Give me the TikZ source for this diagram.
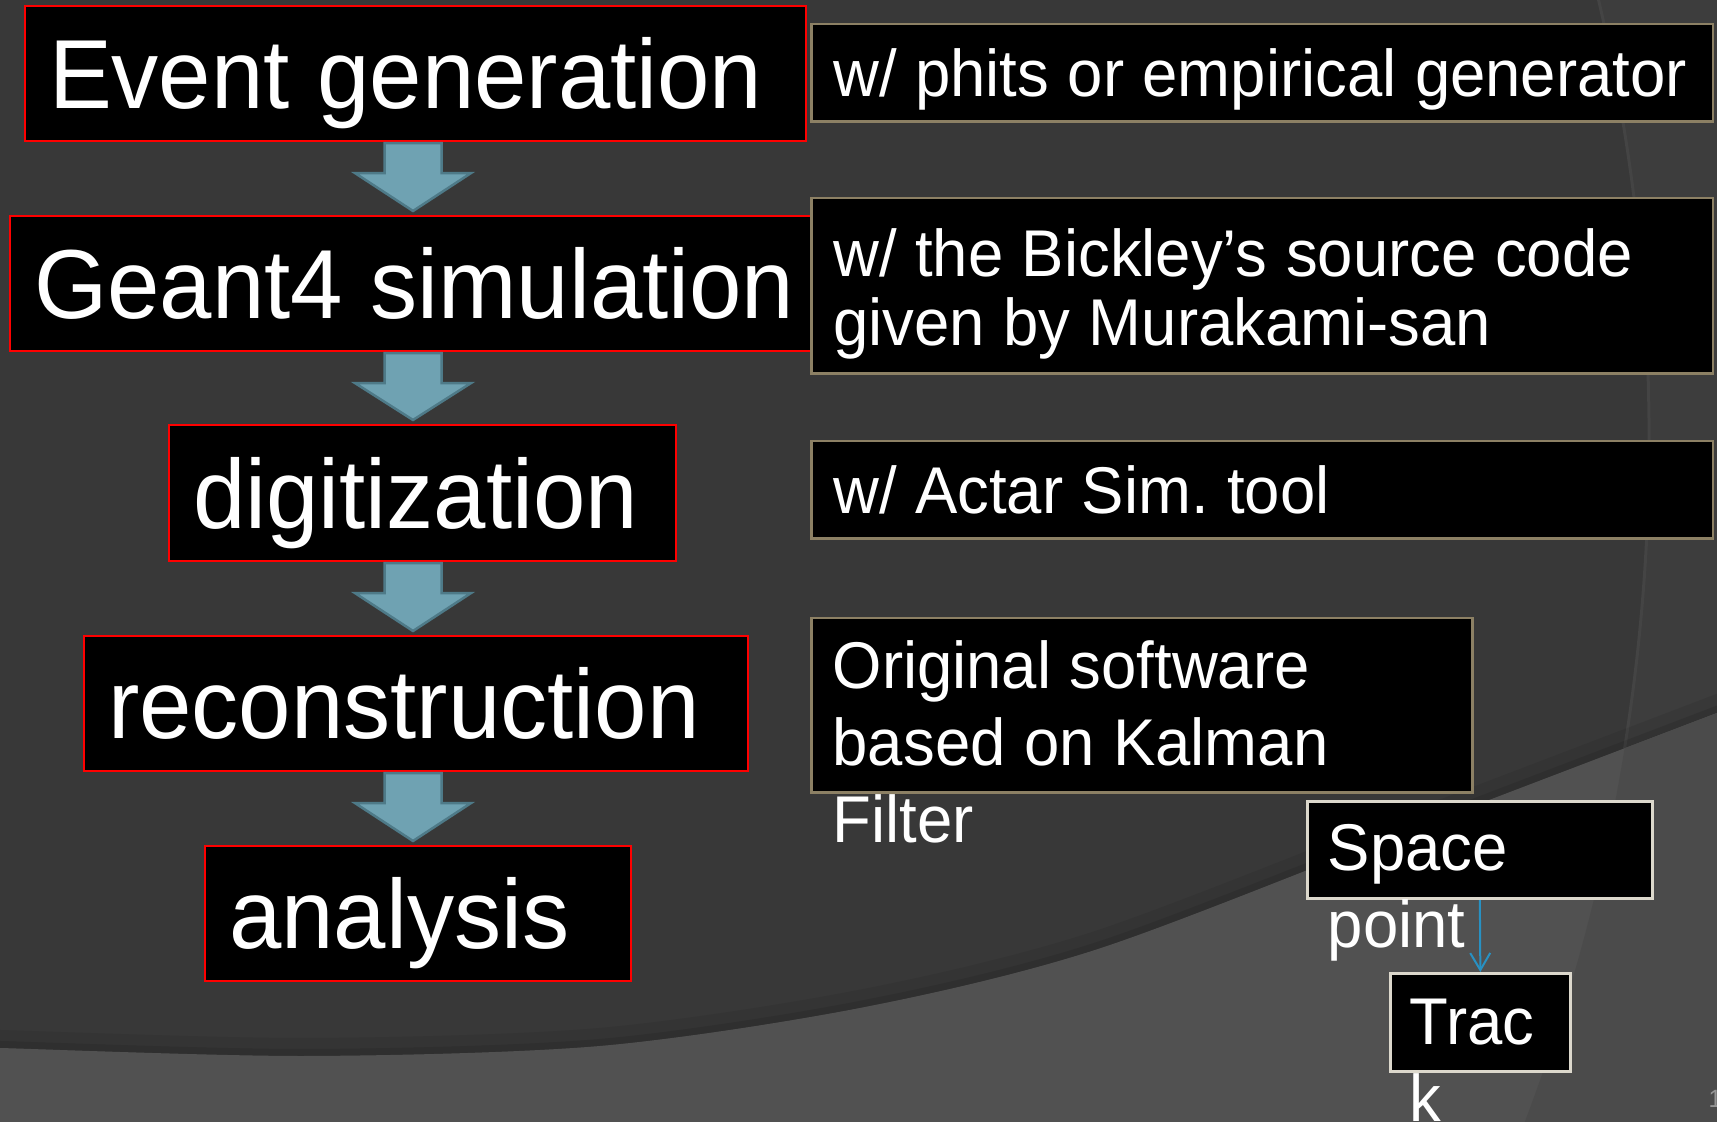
\documentclass[tikz,border=0pt]{standalone}
\usepackage{fontspec}
\setmainfont{Liberation Sans}[FakeStretch=0.96]
\frenchspacing
\usetikzlibrary{calc,arrows.meta}

\definecolor{bgdark}{RGB}{56,56,56}
\definecolor{bgmid}{RGB}{61,61,61}
\definecolor{bglight}{RGB}{81,81,81}
\definecolor{bgedge}{RGB}{75,75,75}
\definecolor{bgglint}{RGB}{68,68,68}
\definecolor{stagered}{RGB}{255,0,0}
\definecolor{notetan}{RGB}{140,128,100}
\definecolor{tagedge}{RGB}{220,216,204}
\definecolor{flowfill}{RGB}{111,162,178}
\definecolor{flowedge}{RGB}{78,122,136}
\definecolor{linkblue}{RGB}{40,145,195}
\definecolor{pagegray}{RGB}{150,150,150}

\newcommand{\stagefont}{\fontsize{27.9pt}{33pt}\selectfont}
\newcommand{\notefont}{\fontsize{18.8pt}{21.8pt}\selectfont}
\newcommand{\tightfont}{\fontsize{18.8pt}{19.8pt}\selectfont}
\newcommand{\floorcurve}{(-10, 1047) (0, 1048) (306, 1056) (600, 1046) (860, 1008) (1095, 950) (1400, 834) (1717, 713) (1730, 708)}

\tikzset{
  stage/.style={draw=stagered, line width=0.02cm, fill=black, text=white, font=\stagefont,
    anchor=north west, inner xsep=0.24cm, inner ysep=0pt, minimum height=1.35cm,
    text height=0.70cm, text depth=0pt, align=left, oneline},
  note/.style={draw=notetan, line width=0.025cm, fill=black, text=white, font=\notefont,
    anchor=north west, inner xsep=0.22cm, inner ysep=0pt, minimum height=0.97cm,
    text height=0.47cm, text depth=0pt, align=left},
  oneline/.style={execute at begin node={\hbox to \linewidth\bgroup\spaceskip=0.28em\relax},
    execute at end node={\hss\egroup}},
  wordgap/.style={execute at begin node={\spaceskip=0.28em\relax}},
  tag/.style={note, draw=tagedge, line width=0.03cm},
  spill/.style={text=white, font=\notefont, anchor=north west, inner sep=0pt,
    text height=0.47cm, align=left, wordgap},
  flow/.style={fill=flowfill, draw=flowedge, line width=0.025cm},
  link/.style={draw=linkblue, line width=0.02cm, -{Straight Barb[length=0.17cm, width=0.2cm]}},
  pagenum/.style={text=pagegray, font=\fontsize{7.1pt}{8pt}\selectfont, anchor=base west, inner sep=0pt}
}

\begin{document}
\begin{tikzpicture}[x=0.01cm, y=-0.01cm]

  \useasboundingbox (0, 0) rectangle (1717, 1122);

  % slide background
  \begin{scope}
    \clip (0, 0) rectangle (1717, 1122);
    \fill[bgdark] (0, 0) rectangle (1717, 1122);
    \fill[bgmid, even odd rule] (-20, -20) rectangle (1740, 1140) (-275, 440) circle[radius=19.23cm];
    \begin{scope}
      \clip plot[smooth] coordinates \floorcurve -- (1730, -20) -- (-10, -20) -- cycle;
      \draw[bgglint, line width=0.03cm] (-275, 440) circle[radius=19.23cm];
      \draw[black, opacity=0.07, line width=0.36cm] plot[smooth] coordinates \floorcurve;
      \draw[black, opacity=0.09, line width=0.14cm] plot[smooth] coordinates \floorcurve;
    \end{scope}
    \begin{scope}
      \clip plot[smooth] coordinates \floorcurve -- (1730, 1140) -- (-10, 1140) -- cycle;
      \fill[bglight] (-20, -20) rectangle (1740, 1140);
      \fill[bgedge, even odd rule] (-20, -20) rectangle (1740, 1140) (-275, 440) circle[radius=19.23cm];
    \end{scope}
  \end{scope}

  \node [stage, text width=7.33cm] (evt) at (24, 5) {Event generation};
  \node [stage, text width=7.53cm] (geant) at (9, 215) {Geant4 simulation};
  \node [stage, text width=4.59cm, minimum height=1.36cm] (digi) at (168, 424) {digitization};
  \node [stage, text width=6.16cm] (reco) at (83, 635) {reconstruction};
  \node [stage, text width=3.78cm] (ana) at (204, 845) {analysis};

  \coordinate (ax) at (413, 0);
  \foreach \a/\b in {evt/geant, geant/digi, digi/reco, reco/ana}
    \draw[flow] ($(ax |- \a.south)+(-28.5, 1)$) -- ++(0, 30) -- ++(-29.5, 0)
      -- ($(ax |- \b.north)+(0, -4)$) -- ($(ax |- \a.south)+(58, 31)$)
      -- ++(-29.5, 0) -- ++(0, -30) -- cycle;

  \node [note, oneline, text width=8.57cm] (phits) at (810, 23) {w/ phits or empirical generator};
  \node [note, wordgap, text width=8.57cm, minimum height=1.75cm, font=\tightfont, text depth=0.66cm] (bickley) at (810, 197)
    {w/ the Bickley’s source code\\given by Murakami-san};
  \node [note, oneline, text width=8.57cm] (actar) at (810, 440) {w/ Actar Sim. tool};

  \node [note, minimum width=6.61cm, minimum height=1.74cm] (orig) at (810, 617) {};
  \node [spill, text width=6.17cm] (origtext) at (832, 641) {Original software\\based on Kalman\\Filter};

  \node [tag, minimum width=3.455cm] (space) at (1305.5, 800) {};
  \node [spill, text width=3.0cm] (spacetext) at (1327, 823) {Space\\point};
  \node [tag, minimum width=1.804cm, minimum height=0.98cm] (track) at (1388.6, 972) {};
  \node [spill, text width=1.4cm] (tracktext) at (1409, 997) {Trac\\k};

  \draw[link] (space.south) -- (track.north);

  \node [pagenum] (pnum) at (1708, 1108) {1};

\end{tikzpicture}
\end{document}
